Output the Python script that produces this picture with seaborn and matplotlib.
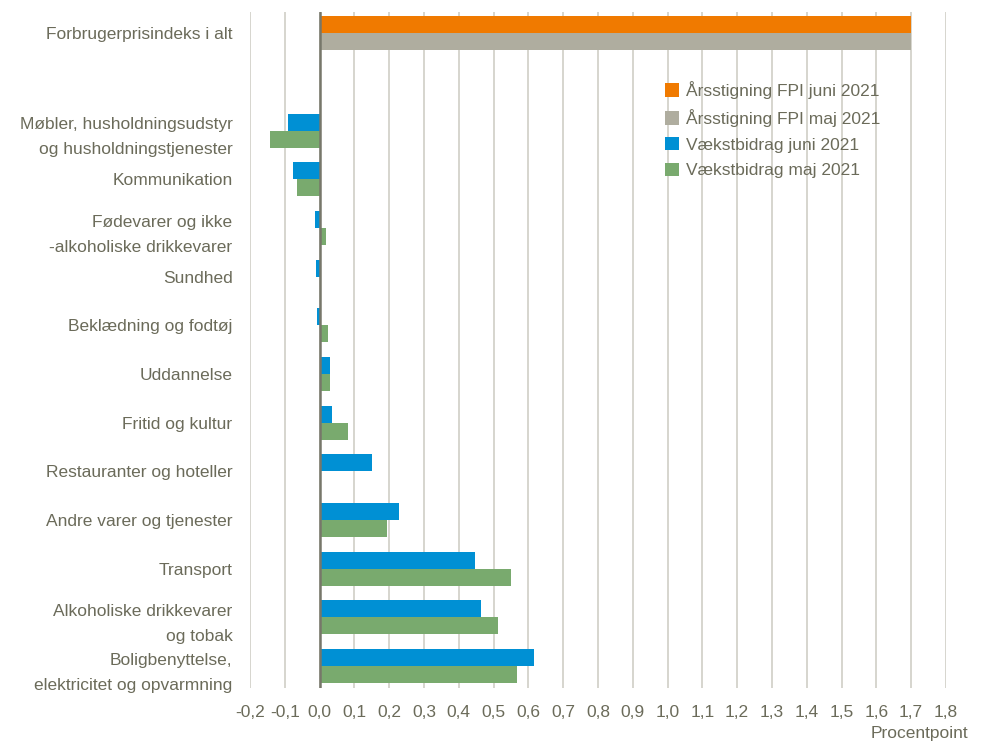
import matplotlib
matplotlib.use("Agg")
import matplotlib.pyplot as plt
import seaborn as sns
import pandas as pd
from matplotlib.patches import Patch
from matplotlib.ticker import FuncFormatter, MultipleLocator

categories = [
    "Forbrugerprisindeks i alt",
    " ",
    "Møbler, husholdningsudstyr\nog husholdningstjenester",
    "Kommunikation",
    "Fødevarer og ikke\n-alkoholiske drikkevarer",
    "Sundhed",
    "Beklædning og fodtøj",
    "Uddannelse",
    "Fritid og kultur",
    "Restauranter og hoteller",
    "Andre varer og tjenester",
    "Transport",
    "Alkoholiske drikkevarer\nog tobak",
    "Boligbenyttelse,\nelektricitet og opvarmning",
]
fpi_series = ["Årsstigning FPI juni 2021", "Årsstigning FPI maj 2021"]
fpi_values = [1.7, 1.7]
bidrag_series = ["Vækstbidrag juni 2021", "Vækstbidrag maj 2021"]
bidrag_juni = [-0.09, -0.075, -0.012, -0.01, -0.008, 0.03, 0.037, 0.15, 0.227, 0.447, 0.463, 0.615]
bidrag_maj = [-0.143, -0.065, 0.018, 0.0, 0.024, 0.03, 0.081, 0.0, 0.195, 0.551, 0.514, 0.566]

colors = {
    "Årsstigning FPI juni 2021": "#F07A00",
    "Årsstigning FPI maj 2021": "#AFAD9F",
    "Vækstbidrag juni 2021": "#0090D4",
    "Vækstbidrag maj 2021": "#79AA6E",
}
text_color = "#6B6B5A"

fpi_df = pd.DataFrame({
    "kategori": [categories[0]] * 2,
    "serie": fpi_series,
    "værdi": fpi_values,
})
sub_cats = categories[2:]
bidrag_df = pd.DataFrame({
    "kategori": sub_cats * 2,
    "serie": [bidrag_series[0]] * len(sub_cats) + [bidrag_series[1]] * len(sub_cats),
    "værdi": bidrag_juni + bidrag_maj,
})

sns.set_theme(style="white")
plt.rcParams["font.family"] = ["Liberation Sans", "DejaVu Sans"]

fig = plt.figure(figsize=(9.81, 7.44), dpi=100)
ax = fig.add_axes([0.2548, 0.0753, 0.7095, 0.9086])

sns.barplot(data=fpi_df, y="kategori", x="værdi", hue="serie", order=categories,
            hue_order=fpi_series, palette=[colors[s] for s in fpi_series],
            orient="y", width=0.7, linewidth=0, saturation=1, legend=False, ax=ax)
sns.barplot(data=bidrag_df, y="kategori", x="værdi", hue="serie", order=categories,
            hue_order=bidrag_series, palette=[colors[s] for s in bidrag_series],
            orient="y", width=0.7, linewidth=0, saturation=1, legend=False, ax=ax)

ax.set_xlim(-0.2, 1.8)
ax.set_ylim(13.45, -0.44)
ax.xaxis.set_major_locator(MultipleLocator(0.1))
ax.xaxis.set_major_formatter(FuncFormatter(lambda v, p: f"{v:.1f}".replace(".", ",").replace("-0,0", "0,0")))
ax.grid(axis="x", color="#CFCEC6", linewidth=1.2, zorder=0)
ax.set_axisbelow(True)
ax.axvline(0, color="#77776A", linewidth=1.8, zorder=3)
for s in ax.spines.values():
    s.set_visible(False)
ax.tick_params(axis="x", length=0, pad=12, labelsize=12.5, labelcolor=text_color)
ax.tick_params(axis="y", length=0, pad=12.5, labelsize=12.5, labelcolor=text_color)
for lbl in ax.get_yticklabels():
    lbl.set_linespacing(1.85)
ax.set_xlabel("")
ax.set_ylabel("")
fig.text(0.987, 0.004, "Procentpoint", ha="right", va="bottom", fontsize=12.5, color=text_color)

handles = [Patch(facecolor=colors[s], edgecolor="none") for s in fpi_series + bidrag_series]
leg = ax.legend(handles, fpi_series + bidrag_series, loc="upper left",
                bbox_to_anchor=(0.574, 0.921), frameon=False, fontsize=12.5,
                handlelength=0.8, handleheight=0.8, handletextpad=0.4, labelspacing=0.58)
for t in leg.get_texts():
    t.set_color(text_color)

fig.savefig("out.png", dpi=100)
